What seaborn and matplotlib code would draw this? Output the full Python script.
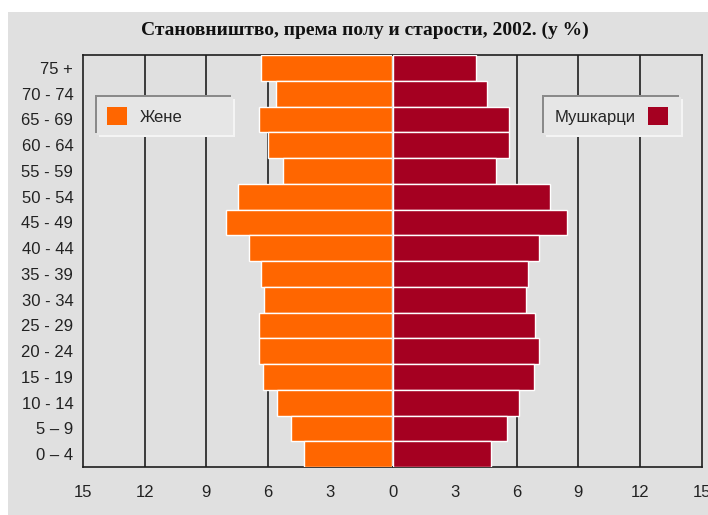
import numpy as np
import pandas as pd
import matplotlib
matplotlib.use('Agg')
import matplotlib.pyplot as plt
import matplotlib.patheffects as pe
import seaborn as sns
from matplotlib.patches import Patch, Rectangle

ages = ['75 +', '70 - 74', '65 - 69', '60 - 64', '55 - 59', '50 - 54', '45 - 49',
        '40 - 44', '35 - 39', '30 - 34', '25 - 29', '20 - 24', '15 - 19',
        '10 - 14', '5 – 9', '0 – 4']
females = [6.35, 5.62, 6.45, 6.0, 5.27, 7.45, 8.07, 6.92, 6.35, 6.19, 6.45, 6.45,
           6.25, 5.56, 4.91, 4.27]
males = [4.01, 4.54, 5.64, 5.64, 5.0, 7.62, 8.46, 7.09, 6.53, 6.44, 6.91, 7.09,
         6.83, 6.10, 5.55, 4.74]
xticks = [0, 3, 6, 9, 12, 15]
left_ticklabels = ['', '3', '6', '9', '12', '15']  # the shared 0 is drawn once, by the right panel
gridlines = [6, 9, 12]

title = 'Становништво, према полу и старости, 2002. (у %)'
female_label = 'Жене'
male_label = 'Мушкарци'

bg = '#e0e0e0'
orange = '#ff6600'
darkred = '#a50021'
ink = '#1e1e1e'
fs = 12

sns.set_style('white')
plt.rcParams['font.family'] = ['Liberation Sans', 'DejaVu Sans']

df = pd.DataFrame({'age': ages, 'female': females, 'male': males})

W, H = 708, 515
fig = plt.figure(figsize=(W / 100, H / 100), dpi=100)
fig.patch.set_facecolor('white')
fig.patches.append(Rectangle((8 / W, 0), 1, 1 - 12 / H, transform=fig.transFigure,
                             facecolor=bg, edgecolor='none', zorder=-10))

bottom = 1 - 467 / H
height = 412 / H
ax_l = fig.add_axes([83 / W, bottom, 308.5 / W, height])
ax_r = fig.add_axes([393.3 / W, bottom, 308.4 / W, height])

sns.barplot(data=df, x='female', y='age', orient='h', color=orange, saturation=1,
            edgecolor='white', linewidth=1, width=1, ax=ax_l, zorder=3)
sns.barplot(data=df, x='male', y='age', orient='h', color=darkred, saturation=1,
            edgecolor='white', linewidth=1, width=1, ax=ax_r, zorder=3)

for ax in (ax_l, ax_r):
    ax.set_facecolor(bg)
    ax.set_xlim(0, 15)
    ax.set_xticks(xticks)
    ax.set_xlabel('')
    ax.set_ylabel('')
    ax.tick_params(axis='x', length=0, pad=13, labelsize=fs, colors='#222222')
    ax.tick_params(axis='y', length=0)
    for g in gridlines:
        ax.axvline(g, color=ink, linewidth=1.2, zorder=1)
    for side in ax.spines:
        ax.spines[side].set_color(ink)
        ax.spines[side].set_linewidth(1.2)
        ax.spines[side].set_zorder(2)

ax_l.invert_xaxis()
ax_l.set_xticklabels(left_ticklabels)
ax_l.spines['right'].set_visible(False)
ax_l.tick_params(axis='y', pad=7, labelsize=fs, colors='#222222')
ax_r.spines['left'].set_visible(False)
ax_r.set_yticklabels([])

leg_kw = dict(loc='upper left', mode='expand', bbox_transform=fig.transFigure,
              borderaxespad=0, fancybox=False, framealpha=1, facecolor='#e6e6e6',
              edgecolor='none', fontsize=fs, handlelength=1.2, handleheight=1.25,
              handletextpad=0.75, borderpad=0.62)
bevel = [pe.SimplePatchShadow(offset=(-1.5, 1.5), shadow_rgbFace='#8a8a8a', alpha=1),
         pe.SimplePatchShadow(offset=(1.5, -1.5), shadow_rgbFace='#f4f4f4', alpha=1),
         pe.Normal()]

leg_l = ax_l.legend(handles=[Patch(facecolor=orange, edgecolor='none')],
                    labels=[female_label],
                    bbox_to_anchor=(97 / W, 1 - 137 / H, 136 / W, 40 / H), **leg_kw)
leg_r = ax_r.legend(handles=[Patch(facecolor=darkred, edgecolor='none')],
                    labels=[male_label], markerfirst=False,
                    bbox_to_anchor=(544 / W, 1 - 137 / H, 137 / W, 40 / H), **leg_kw)
for leg in (leg_l, leg_r):
    leg.set_zorder(10)
    leg.get_frame().set_path_effects(bevel)

fig.text(365 / W, 1 - 30 / H, title, ha='center', va='center',
         family=['Liberation Serif', 'DejaVu Serif'], weight='bold', fontsize=14,
         color='#111111')

fig.savefig('out.png', dpi=100, facecolor=fig.get_facecolor())
